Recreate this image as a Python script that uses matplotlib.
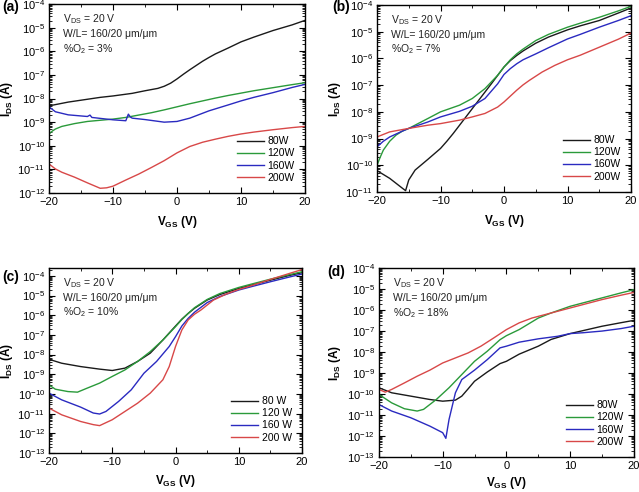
import numpy as np
import matplotlib
matplotlib.use("Agg")
import matplotlib.pyplot as plt
from matplotlib.ticker import LogLocator, MultipleLocator, FixedLocator, NullFormatter

plt.rcParams['font.family'] = ['Liberation Sans', 'DejaVu Sans']
plt.rcParams['mathtext.fontset'] = 'custom'
plt.rcParams['mathtext.rm'] = 'Liberation Sans'
plt.rcParams['mathtext.it'] = 'Liberation Sans'
plt.rcParams['mathtext.bf'] = 'Liberation Sans:bold'

labels = ['80W', '120W', '160W', '200W']
labels_c = ['80 W', '120 W', '160 W', '200 W']
colors = ['#1a1a1a', '#2a9a3a', '#2a2ac0', '#d84848']

# ---- panel (a): %O2 = 3% ----  (x in V, y as log10(I))
a_80_x = [-20, -17, -15, -12, -10, -7, -5, -3, -2, -1, 0, 1, 2, 3, 4, 5, 6, 8, 10, 12, 15, 18, 20]
a_80_y = [-8.31, -8.15, -8.07, -7.95, -7.89, -7.78, -7.67, -7.57, -7.48, -7.35, -7.17, -6.97, -6.78, -6.6, -6.42, -6.26, -6.11, -5.86, -5.6, -5.4, -5.12, -4.88, -4.69]
a_120_x = [-20, -19.5, -19, -18, -16, -14, -12, -10, -8, -6, -4, -2, 0, 2, 4, 6, 8, 10, 12, 15, 18, 20]
a_120_y = [-9.5, -9.38, -9.29, -9.18, -9.06, -8.97, -8.92, -8.87, -8.8, -8.7, -8.6, -8.48, -8.35, -8.22, -8.1, -7.98, -7.87, -7.77, -7.67, -7.54, -7.41, -7.33]
a_160_x = [-20, -19, -17, -14, -13.6, -13.3, -12, -10, -8, -7.6, -7.3, -7, -5, -2, 0, 2, 5, 8, 10, 12, 15, 18, 20]
a_160_y = [-8.35, -8.56, -8.69, -8.76, -8.70, -8.80, -8.84, -8.90, -8.94, -8.66, -8.78, -8.83, -8.89, -9.0, -8.97, -8.83, -8.52, -8.27, -8.10, -7.95, -7.75, -7.53, -7.40]
a_200_x = [-20, -19, -18, -16, -14, -12, -11, -10, -8, -6, -4, -2, 0, 2, 4, 6, 8, 10, 12, 15, 18, 20]
a_200_y = [-10.77, -10.98, -11.12, -11.33, -11.57, -11.8, -11.78, -11.71, -11.45, -11.2, -10.92, -10.63, -10.3, -10.03, -9.85, -9.72, -9.6, -9.5, -9.42, -9.32, -9.23, -9.18]

# ---- panel (b): %O2 = 7% ----
b_80_x = [-20, -18, -16, -15.5, -15, -14, -12, -10, -9, -8, -6, -4, -2, 0, 1, 2, 3, 5, 7, 10, 12, 15, 18, 20]
b_80_y = [-10.2, -10.49, -10.86, -10.95, -10.55, -10.18, -9.78, -9.37, -9.1, -8.81, -8.19, -7.57, -6.95, -6.32, -6.08, -5.89, -5.72, -5.43, -5.2, -4.93, -4.78, -4.58, -4.3, -4.11]
b_120_x = [-20, -19.5, -19, -18, -17, -16, -15, -12, -10, -7, -5, -3, -1, 0, 1, 2, 3, 5, 7, 10, 12, 15, 18, 20]
b_120_y = [-10.0, -9.7, -9.43, -9.1, -8.87, -8.72, -8.62, -8.25, -8.0, -7.75, -7.5, -7.13, -6.63, -6.32, -6.05, -5.83, -5.65, -5.33, -5.1, -4.83, -4.68, -4.46, -4.22, -4.05]
b_160_x = [-20, -19, -18, -16, -15, -12, -10, -7, -5, -3, -1, 0, 1, 2, 3, 5, 7, 10, 12, 15, 18, 20]
b_160_y = [-9.31, -9.1, -8.94, -8.72, -8.62, -8.38, -8.19, -7.98, -7.79, -7.5, -6.95, -6.6, -6.38, -6.2, -6.05, -5.83, -5.6, -5.27, -5.1, -4.83, -4.58, -4.4]
b_200_x = [-20, -18, -15, -12, -10, -7, -5, -3, -1, 0, 1, 2, 3, 4, 6, 8, 10, 12, 15, 18, 20]
b_200_y = [-8.94, -8.75, -8.62, -8.5, -8.44, -8.31, -8.19, -8.06, -7.82, -7.63, -7.41, -7.19, -6.99, -6.82, -6.51, -6.26, -6.05, -5.88, -5.58, -5.28, -5.05]

# ---- panel (c): %O2 = 10% ----
c_80_x = [-20, -18, -15, -12, -10, -8, -6, -4, -2, 0, 1, 2, 3, 5, 7, 10, 12, 15, 18, 20]
c_80_y = [-8.24, -8.44, -8.61, -8.74, -8.81, -8.69, -8.35, -7.93, -7.26, -6.55, -6.2, -5.91, -5.65, -5.23, -4.95, -4.64, -4.47, -4.22, -3.98, -3.84]
c_120_x = [-20, -19, -17, -15.5, -14, -12, -10, -8, -6, -4, -2, 0, 1, 2, 3, 5, 7, 10, 12, 15, 18, 20]
c_120_y = [-9.54, -9.76, -9.88, -9.91, -9.71, -9.45, -9.11, -8.78, -8.35, -7.85, -7.26, -6.58, -6.22, -5.91, -5.62, -5.2, -4.9, -4.59, -4.42, -4.17, -3.94, -3.79]
c_160_x = [-20, -18, -15, -13, -12, -11, -9, -7, -5, -3, -1, 0, 1, 2, 3, 5, 7, 10, 12, 15, 18, 20]
c_160_y = [-9.96, -10.3, -10.67, -10.97, -11.02, -10.89, -10.38, -9.79, -8.95, -8.35, -7.59, -7.09, -6.55, -6.16, -5.85, -5.36, -5.05, -4.72, -4.55, -4.30, -4.06, -3.91]
c_200_x = [-20, -18, -15, -13, -12, -10, -8, -6, -4, -2, -1, 0, 1, 2, 3, 4, 6, 8, 10, 12, 15, 18, 20]
c_200_y = [-10.72, -11.06, -11.4, -11.56, -11.61, -11.31, -10.89, -10.47, -9.96, -9.28, -8.61, -7.59, -6.75, -6.24, -5.95, -5.74, -5.23, -4.93, -4.69, -4.5, -4.18, -3.88, -3.68]

# ---- panel (d): %O2 = 18% ----
d_80_x = [-20, -18, -15, -12, -10, -8, -7, -6, -5, -3, -1, 0, 2, 5, 7, 10, 12, 15, 18, 20]
d_80_y = [-9.70, -9.94, -10.1, -10.26, -10.34, -10.29, -10.1, -9.75, -9.39, -8.95, -8.55, -8.44, -8.1, -7.72, -7.4, -7.12, -6.98, -6.77, -6.6, -6.49]
d_120_x = [-20, -18, -16, -14, -13, -11, -9, -7, -5, -3, -1, 0, 2, 5, 7, 10, 12, 15, 18, 20]
d_120_y = [-10.02, -10.42, -10.7, -10.81, -10.73, -10.26, -9.7, -9.07, -8.44, -7.96, -7.41, -7.22, -6.93, -6.38, -6.14, -5.82, -5.66, -5.42, -5.18, -5.03]
d_160_x = [-20, -18, -15, -12, -10, -9.5, -9, -8, -7, -5, -3, -1, 0, 2, 5, 8, 10, 12, 15, 18, 20]
d_160_y = [-10.5, -10.81, -11.13, -11.53, -11.84, -12.11, -11.21, -9.94, -9.31, -8.86, -8.36, -7.80, -7.72, -7.53, -7.37, -7.25, -7.12, -7.08, -7.0, -6.88, -6.77]
d_200_x = [-20, -19, -18, -16, -14, -12, -10, -8, -6, -4, -2, 0, 2, 4, 7, 10, 12, 15, 18, 20]
d_200_y = [-9.78, -9.91, -9.78, -9.47, -9.15, -8.86, -8.52, -8.28, -8.04, -7.72, -7.33, -6.93, -6.61, -6.38, -6.14, -5.90, -5.74, -5.50, -5.29, -5.16]

panels = [
    dict(tag='(a)', o2='3%', ylim=(1e-12, 1e-4), rect=[0.0767, 0.6077, 0.4006, 0.384],
         data=[(a_80_x, a_80_y), (a_120_x, a_120_y), (a_160_x, a_160_y), (a_200_x, a_200_y)],
         labels=labels, tagpos=(0.003, 0.999), ylx=-0.133, xlp=5),
    dict(tag='(b)', o2='7%', ylim=(1e-11, 1e-4), rect=[0.590, 0.6098, 0.3975, 0.380],
         data=[(b_80_x, b_80_y), (b_120_x, b_120_y), (b_160_x, b_160_y), (b_200_x, b_200_y)],
         labels=labels, tagpos=(0.520, 0.999), ylx=-0.134, xlp=5),
    dict(tag='(c)', o2='10%', ylim=(1e-13, 2.5e-4), rect=[0.0767, 0.0793, 0.396, 0.376],
         data=[(c_80_x, c_80_y), (c_120_x, c_120_y), (c_160_x, c_160_y), (c_200_x, c_200_y)],
         labels=labels_c, tagpos=(0.003, 0.451), ylx=-0.135, xlp=4),
    dict(tag='(d)', o2='18%', ylim=(1e-13, 1e-4), rect=[0.593, 0.0711, 0.399, 0.384],
         data=[(d_80_x, d_80_y), (d_120_x, d_120_y), (d_160_x, d_160_y), (d_200_x, d_200_y)],
         labels=labels, tagpos=(0.512, 0.461), ylx=-0.141, xlp=3),
]

fig = plt.figure(figsize=(6.39, 4.92), dpi=100)

for p in panels:
    ax = fig.add_axes(p['rect'])
    for (xs, ys), c, lab in zip(p['data'], colors, p['labels']):
        ax.plot(xs, 10.0 ** np.array(ys), color=c, lw=1.0, label=lab)
    ax.set_yscale('log')
    ax.set_xlim(-20, 20)
    ax.set_ylim(*p['ylim'])
    lo = int(np.round(np.log10(p['ylim'][0])))
    ax.yaxis.set_major_locator(FixedLocator([10.0 ** k for k in range(lo, -3)]))
    ax.yaxis.set_minor_locator(LogLocator(base=10, subs=np.arange(2, 10), numticks=30))
    ax.yaxis.set_minor_formatter(NullFormatter())
    ax.xaxis.set_major_locator(MultipleLocator(10))
    ax.xaxis.set_minor_locator(MultipleLocator(5))
    ax.tick_params(which='both', direction='in', top=True, right=True, labelsize=8, pad=3)
    ax.tick_params(which='major', length=4, width=0.8)
    ax.tick_params(which='minor', length=2, width=0.6)
    for s in ax.spines.values():
        s.set_linewidth(1.0)
    ax.set_xlabel(r'$\mathbf{V_{GS}\ (V)}$', fontsize=8.5, labelpad=p['xlp'])
    ax.set_ylabel(r'$\mathbf{I_{DS}\ (A)}$', fontsize=8.5)
    ax.yaxis.set_label_coords(p['ylx'], 0.5)
    ax.text(0.055, 0.955, r'V$_{\mathrm{DS}}$ = 20 V' + '\nW/L= 160/20 \u03bcm/\u03bcm\n' + r'%O$_{2}$ = ' + p['o2'],
            transform=ax.transAxes, ha='left', va='top', fontsize=7.5, linespacing=1.3, color='#222222')
    ax.legend(loc='lower right', frameon=False, fontsize=7.5, handlelength=2.6, handletextpad=0.3,
              labelspacing=0.2, borderaxespad=0.6)
    fig.text(p['tagpos'][0], p['tagpos'][1], p['tag'], fontsize=10, fontweight='bold', ha='left', va='top')

fig.savefig('out.png', dpi=100)
